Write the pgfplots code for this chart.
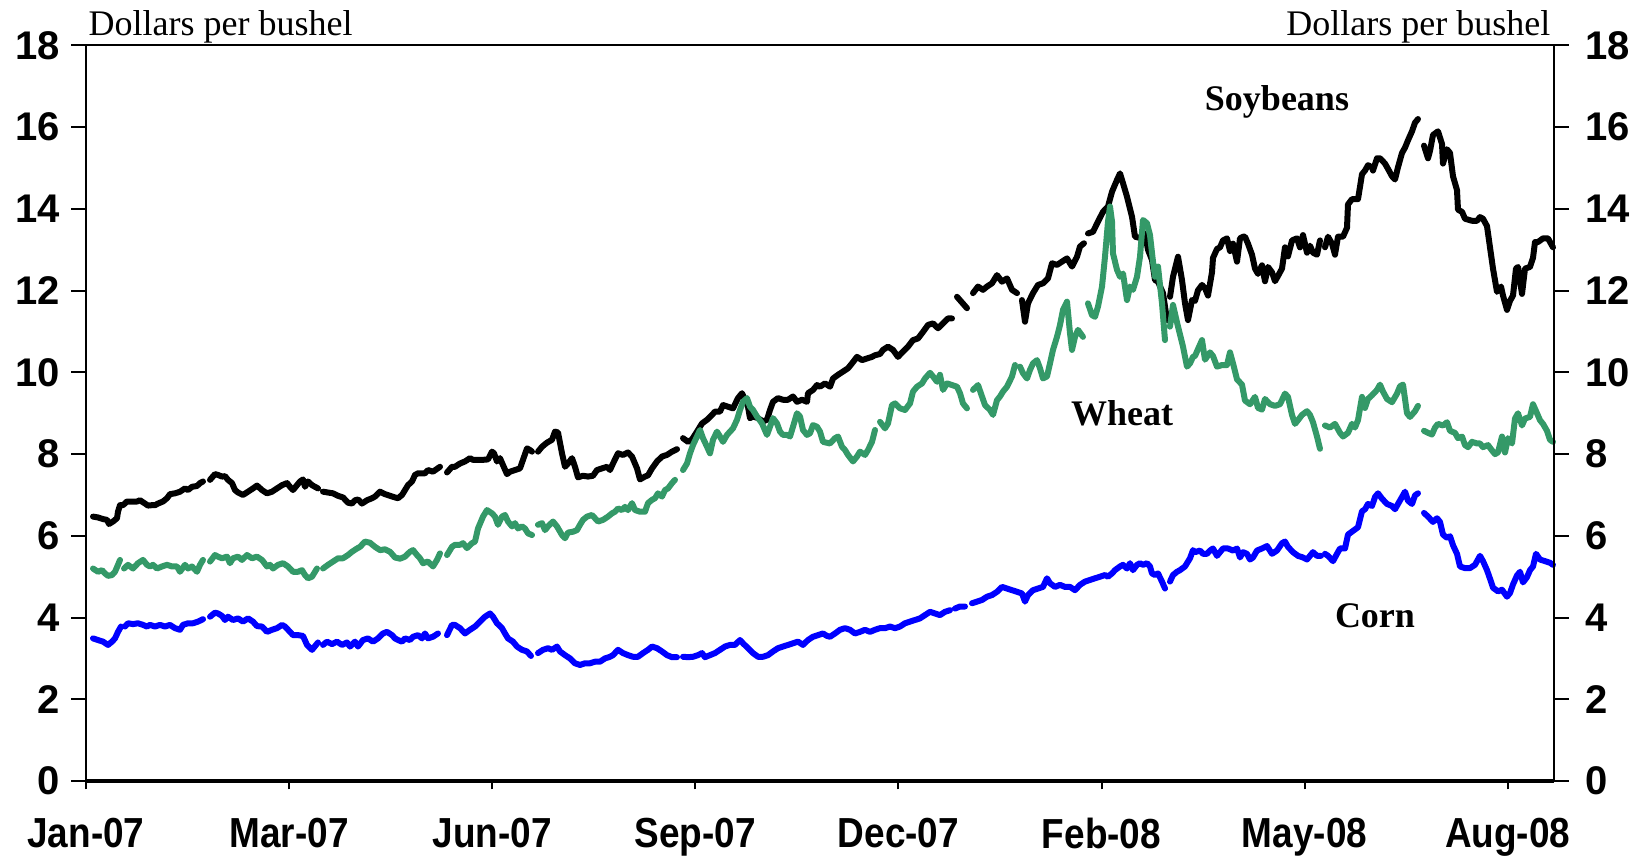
\documentclass[border=0pt]{standalone}
\usepackage{fontspec}
\setmainfont{Liberation Serif}
\newfontfamily\tickfont{Liberation Sans}
\usepackage{graphicx}
\usepackage{pgfplots}
\pgfplotsset{compat=1.18}

\definecolor{wheatgreen}{RGB}{52,153,104}
\definecolor{cornblue}{RGB}{0,0,255}

% x labels look a bit narrower than the y labels
\newcommand{\xl}[1]{\scalebox{0.88}[1]{#1}}

\begin{document}
\begin{tikzpicture}
\pgfplotsset{
  base/.style={
    scale only axis, width=440.4pt, height=220.65pt,
    xmin=0, xmax=1468, ymin=0, ymax=18,
    at={(0,0)}, anchor=south west,
    axis line style={line width=0.6pt},
    tick style={line width=0.6pt, black},
    tick align=outside,
  },
  series/.style={line width=1.8pt, line cap=round, line join=round},
}

% ---- data axis: frame, x ticks, three series ----
\begin{axis}[
    base,
    clip=false,
    unbounded coords=jump,
    major tick length=2.5pt,
    xtick={0,203.1,406.2,609.3,812.4,1015.5,1218.6,1421.7},
    xticklabels={\xl{Jan-07},\xl{Mar-07},\xl{Jun-07},\xl{Sep-07},\xl{Dec-07},\xl{Feb-08},\xl{May-08},\xl{Aug-08}},
    xtick pos=left,
    x tick label style={font=\tickfont\bfseries\fontsize{12.6}{13}\selectfont, yshift=-5pt},
    ytick=\empty,
]

% Soybeans
\addplot[series, black] coordinates {
(7,6.47) (12,6.45) (17,6.41) (21,6.39) (23,6.29) (27,6.35) (31,6.43) (32,6.59) (34,6.75) (37,6.75)
(41,6.84) (46,6.84) (51,6.84) (54,6.87) (59,6.79) (62,6.74) (66,6.75) (69,6.75) (72,6.79) (77,6.84)
(81,6.92) (84,7.02) (89,7.04) (94,7.08) (99,7.16) (102,7.12) (106,7.20) (111,7.22) (114,7.29) (117,7.33)
(120,nan)
(124,7.37) (129,7.51) (132,7.49) (136,7.45) (139,7.46) (142,7.37) (146,7.29) (149,7.12) (152,7.06) (157,7.00)
(162,7.08) (167,7.16) (171,7.23) (176,7.12) (181,7.04) (186,7.08) (191,7.16) (196,7.24) (201,7.29) (204,7.20)
(207,7.12) (211,7.24) (214,7.33) (217,7.38) (219,7.20) (222,7.33) (226,7.24) (229,7.20) (232,7.16)
(234,nan)
(237,7.08) (242,7.06) (247,7.04) (252,6.98) (257,6.94) (262,6.81) (266,6.79) (269,6.87) (272,6.89) (276,6.79)
(281,6.87) (286,6.92) (289,6.96) (294,7.08) (299,7.02) (304,6.98) (309,6.94) (312,6.92) (316,7.00) (319,7.12)
(322,7.24) (326,7.33) (329,7.49) (332,7.53) (339,7.53) (342,7.61) (347,7.57) (354,7.69)
(357,nan)
(361,7.55) (366,7.69) (369,7.69) (374,7.77) (379,7.82) (384,7.90) (387,7.86) (392,7.86) (397,7.86) (402,7.87)
(406,8.06) (408,8.02) (411,7.82) (414,7.90) (417,7.73) (421,7.51) (424,7.57) (429,7.61) (434,7.65) (437,7.86)
(441,8.14) (444,8.10) (446,8.06)
(449,nan)
(452,8.06) (456,8.18) (461,8.28) (466,8.35) (469,8.55) (472,8.53) (476,8.02) (479,7.69) (482,7.77) (486,7.90)
(489,7.69) (492,7.43) (497,7.47) (502,7.45) (507,7.47) (511,7.61) (516,7.65) (521,7.69) (524,7.61) (527,7.77)
(532,8.02) (537,7.98) (542,8.04) (546,7.94) (551,7.65) (554,7.38) (559,7.45) (562,7.48) (566,7.65) (571,7.82)
(576,7.94) (581,7.98) (586,8.06) (591,8.12)
(594,nan)
(597,8.39) (602,8.30) (606,8.36) (611,8.55) (616,8.75) (621,8.84) (626,8.96) (629,9.04) (634,9.04) (637,9.20)
(642,9.16) (647,9.12) (652,9.37) (656,9.49) (659,9.33) (662,9.16) (664,8.88) (667,8.92) (672,8.88) (677,8.80)
(681,8.84) (684,9.08) (687,9.28) (692,9.37) (697,9.33) (702,9.33) (707,9.41) (711,9.28) (716,9.33) (721,9.28)
(722,9.49) (727,9.57) (731,9.69) (734,9.65) (739,9.73) (744,9.65) (747,9.85) (752,9.94) (757,10.02) (762,10.10)
(766,10.22) (771,10.38) (776,10.30) (781,10.34) (786,10.38) (789,10.42) (794,10.45) (797,10.55) (802,10.63) (807,10.55)
(812,10.38) (817,10.51) (822,10.63) (827,10.79) (832,10.83) (837,10.99) (842,11.16) (847,11.20) (852,11.08) (857,11.20)
(862,11.32) (866,11.32)
(868,nan)
(871,11.85) (881,11.57)
(884,nan)
(887,11.94) (892,12.10) (897,12.02) (901,12.10) (906,12.18) (911,12.38) (916,12.22) (921,12.30) (926,12.02) (931,11.94)
(933,nan)
(936,11.77) (939,11.24) (942,11.69) (947,11.94) (952,12.14) (957,12.18) (962,12.30) (966,12.67) (971,12.63) (976,12.71)
(981,12.79) (986,12.59) (991,12.83) (994,13.08) (998,13.16)
(1000,nan)
(1002,13.40) (1007,13.44) (1012,13.69) (1017,13.93) (1022,14.06) (1026,14.42) (1031,14.71) (1034,14.87) (1037,14.63) (1041,14.30)
(1046,13.81) (1049,13.32) (1056,13.28) (1059,13.40) (1062,13.00) (1066,12.75) (1069,12.26) (1072,12.22) (1077,11.94) (1081,11.28)
(1082,nan)
(1084,11.85) (1087,12.34) (1092,12.83) (1096,12.26) (1099,11.69) (1102,11.28) (1106,11.77) (1109,11.75) (1112,12.01) (1116,12.14)
(1119,12.06) (1122,11.88) (1126,12.45) (1127,12.80) (1131,13.02) (1134,13.06) (1137,13.23) (1141,13.28) (1144,12.97) (1147,13.15)
(1151,12.71) (1154,13.28) (1157,13.32) (1159,13.32) (1162,13.15) (1166,12.88) (1169,12.54) (1172,12.41) (1176,12.62) (1179,12.23)
(1182,12.58) (1186,12.45) (1189,12.23) (1192,12.36) (1196,12.54) (1199,13.06) (1202,12.84) (1206,13.23) (1211,13.28) (1214,13.06)
(1217,13.36) (1221,12.93) (1224,13.10) (1227,12.93) (1231,12.88) (1234,13.23)
(1236,nan)
(1239,13.06) (1242,13.32) (1246,13.15) (1249,12.88) (1252,13.32) (1257,13.32) (1261,13.54) (1262,14.11) (1266,14.24) (1272,14.24)
(1274,14.54) (1276,14.85) (1279,14.94) (1282,15.07) (1286,15.02) (1287,14.94) (1291,15.24) (1294,15.24) (1299,15.11) (1302,14.98)
(1306,14.80) (1309,14.72) (1312,15.02) (1316,15.37) (1319,15.50) (1322,15.68) (1326,15.90) (1329,16.11) (1332,16.20)
(1335,nan)
(1338,15.55) (1342,15.24) (1344,15.42) (1347,15.81) (1352,15.90) (1356,15.59) (1357,15.11) (1361,15.46) (1364,15.37) (1367,14.80)
(1371,14.46) (1372,13.98) (1376,13.93) (1379,13.76) (1386,13.71) (1391,13.71) (1394,13.80) (1397,13.76) (1401,13.58) (1404,13.06)
(1407,12.54) (1411,11.97) (1415,12.10) (1417,11.88) (1421,11.53) (1424,11.75) (1427,11.88) (1430,12.54) (1432,12.58) (1436,11.92)
(1439,12.54) (1444,12.58) (1447,12.80) (1449,13.19) (1452,13.19) (1457,13.28) (1462,13.28) (1467,13.06)
};

% Wheat
\addplot[series, wheatgreen] coordinates {
(7,5.20) (12,5.12) (16,5.16) (19,5.08) (22,5.02) (26,5.04) (29,5.12) (32,5.29) (34,5.41)
(36,nan)
(38,5.20) (42,5.29) (47,5.20) (52,5.33) (57,5.41) (61,5.29) (64,5.25) (67,5.29) (71,5.20) (76,5.25)
(81,5.29) (86,5.25) (91,5.25) (94,5.12) (99,5.29) (102,5.20) (106,5.25) (111,5.12) (114,5.29) (117,5.41)
(120,nan)
(124,5.37) (129,5.53) (132,5.49) (136,5.45) (141,5.49) (144,5.33) (147,5.45) (152,5.49) (156,5.41) (161,5.53)
(166,5.45) (171,5.49) (176,5.41) (181,5.25) (184,5.29) (187,5.20) (192,5.29) (197,5.33) (202,5.25) (207,5.12)
(212,5.12) (216,5.16) (219,5.04) (222,4.96) (226,5.00) (229,5.12) (231,5.20)
(234,nan)
(237,5.20) (242,5.29) (247,5.37) (252,5.45) (257,5.45) (262,5.53) (266,5.61) (271,5.69) (274,5.73) (279,5.86)
(284,5.83) (289,5.73) (294,5.65) (299,5.67) (304,5.61) (309,5.47) (314,5.44) (319,5.49) (324,5.61) (327,5.65)
(331,5.53) (334,5.45) (337,5.33) (342,5.37) (347,5.25) (351,5.41) (354,5.57)
(357,nan)
(361,5.53) (366,5.73) (369,5.78) (374,5.78) (377,5.82) (381,5.70) (386,5.82) (389,5.86) (392,6.18) (397,6.47)
(401,6.63) (406,6.55) (409,6.47) (412,6.27) (416,6.47) (419,6.51) (422,6.35) (426,6.23) (429,6.31) (432,6.18)
(436,6.23) (439,6.18) (442,6.06) (446,6.02)
(449,nan)
(452,6.27) (456,6.31) (459,6.14) (462,6.23) (467,6.35) (471,6.23) (476,6.02) (479,5.94) (482,6.08) (487,6.10)
(491,6.14) (494,6.27) (497,6.39) (501,6.47) (506,6.51) (509,6.43) (512,6.35) (517,6.39) (522,6.47) (526,6.55)
(529,6.59) (532,6.67) (536,6.63) (539,6.71) (542,6.63) (546,6.80) (549,6.63) (554,6.59) (559,6.59) (562,6.80)
(566,6.88) (569,6.92) (572,7.04) (576,6.96) (579,7.12) (582,7.16) (586,7.29) (589,7.37)
(593,nan)
(597,7.61) (601,7.77) (604,8.02) (607,8.22) (611,8.43) (614,8.59) (617,8.39) (621,8.18) (624,8.02) (627,8.35)
(631,8.55) (634,8.43) (637,8.30) (641,8.47) (644,8.55) (647,8.63) (651,8.84) (654,9.08) (657,9.28) (661,9.37)
(664,9.16) (667,9.08) (671,8.92) (676,8.75) (681,8.47) (684,8.67) (687,8.88) (691,8.75) (694,8.55) (697,8.47)
(701,8.47) (704,8.43) (707,8.67) (711,9.00) (714,8.92) (717,8.59) (721,8.47) (724,8.51) (727,8.71) (731,8.67)
(734,8.55) (737,8.30) (744,8.26) (749,8.39) (752,8.43) (756,8.18) (759,8.10) (762,7.98) (767,7.82) (771,7.94)
(774,8.06) (779,7.98) (782,8.10) (786,8.30) (789,8.59)
(791,nan)
(794,8.79) (799,8.63) (802,8.75) (806,9.20) (809,9.24) (814,9.12) (819,9.08) (824,9.24) (827,9.53) (831,9.65)
(836,9.73) (839,9.85) (844,9.99) (847,9.90) (851,9.77) (854,9.94) (857,9.57) (861,9.73) (866,9.69) (871,9.65)
(874,9.49) (877,9.24) (881,9.12)
(884,nan)
(887,9.57) (892,9.69) (896,9.41) (899,9.20) (904,9.08) (907,8.96) (911,9.32) (914,9.41) (917,9.53) (921,9.65)
(926,9.90) (929,10.18)
(931,nan)
(934,10.14) (937,9.98) (941,9.85) (944,10.06) (947,10.22) (951,10.30) (954,10.10) (957,9.85) (961,9.90) (964,10.22)
(967,10.55) (971,10.87) (974,11.16) (977,11.53) (981,11.73) (984,10.96) (986,10.55) (989,10.87) (992,11.04) (997,10.87)
(1000,nan)
(1002,11.69) (1006,11.40) (1009,11.36) (1012,11.61) (1016,12.10) (1019,12.83) (1022,13.69) (1024,14.06) (1026,13.69) (1027,12.91)
(1031,12.51) (1034,12.34) (1037,12.42) (1041,11.77) (1044,12.10) (1047,12.02) (1051,12.34) (1054,12.83) (1057,13.73) (1061,13.65)
(1064,13.36) (1067,12.71) (1069,12.34) (1072,12.59) (1076,11.69) (1079,10.79)
(1082,nan)
(1084,11.12) (1087,11.65) (1092,11.12) (1097,10.63) (1101,10.14) (1104,10.22) (1107,10.38) (1109,10.40) (1112,10.57) (1116,10.79)
(1119,10.31) (1124,10.49) (1127,10.40) (1131,10.14) (1136,10.18) (1141,10.18) (1144,10.49) (1147,10.22) (1151,9.83) (1156,9.70)
(1159,9.31) (1164,9.22) (1169,9.40) (1172,9.13) (1176,9.09) (1179,9.35) (1184,9.22) (1189,9.18) (1194,9.22) (1199,9.48)
(1202,9.40) (1206,8.96) (1209,8.74) (1212,8.83) (1216,8.96) (1221,9.05) (1224,8.96) (1227,8.78) (1231,8.43) (1234,8.13)
(1236,nan)
(1239,8.70) (1244,8.65) (1249,8.74) (1254,8.52) (1257,8.43) (1262,8.52) (1266,8.74) (1269,8.65) (1272,8.83) (1276,9.40)
(1279,9.13) (1282,9.35) (1286,9.44) (1291,9.57) (1294,9.70) (1297,9.53) (1301,9.35) (1306,9.27) (1311,9.48) (1314,9.66)
(1317,9.70) (1321,9.00) (1324,8.91) (1329,9.05) (1332,9.18)
(1335,nan)
(1338,8.57) (1342,8.52) (1346,8.48) (1349,8.65) (1352,8.74) (1357,8.70) (1361,8.78) (1364,8.57) (1369,8.52) (1372,8.39)
(1376,8.43) (1379,8.22) (1382,8.17) (1386,8.30) (1391,8.26) (1394,8.26) (1397,8.17) (1402,8.22) (1406,8.09) (1409,8.00)
(1412,8.04) (1416,8.43) (1419,8.04) (1422,8.39) (1426,8.26) (1429,8.87) (1432,9.00) (1436,8.70) (1439,8.87) (1444,8.91)
(1447,9.22) (1451,9.00) (1454,8.83) (1457,8.74) (1461,8.57) (1464,8.35) (1467,8.30)
};

% Corn
\addplot[series, cornblue] coordinates {
(7,3.49) (12,3.45) (17,3.41) (22,3.33) (26,3.41) (29,3.49) (32,3.65) (35,3.78)
(37,nan)
(39,3.78) (42,3.86) (47,3.84) (52,3.86) (57,3.82) (61,3.78) (64,3.82) (69,3.78) (74,3.82) (79,3.78)
(84,3.82) (89,3.74) (94,3.70) (97,3.82) (102,3.86) (107,3.86) (112,3.90) (117,3.96)
(120,nan)
(124,4.02) (129,4.12) (132,4.10) (136,4.04) (139,3.94) (142,4.02) (147,3.94) (152,3.98) (157,3.90) (162,3.98)
(167,3.90) (171,3.79) (176,3.78) (181,3.65) (186,3.70) (191,3.74) (196,3.82) (199,3.78) (204,3.65) (207,3.57)
(212,3.57) (217,3.55) (221,3.33) (226,3.21) (229,3.30) (232,3.39)
(234,nan)
(237,3.33) (241,3.41) (246,3.35) (251,3.41) (256,3.33) (261,3.39) (264,3.29) (269,3.41) (272,3.29) (277,3.45)
(282,3.49) (287,3.41) (292,3.49) (297,3.61) (301,3.65) (306,3.57) (309,3.49) (312,3.45) (316,3.41) (319,3.49)
(324,3.45) (327,3.53) (332,3.57) (336,3.49) (339,3.61) (342,3.49) (347,3.53) (352,3.61)
(356,nan)
(361,3.57) (366,3.82) (369,3.82) (374,3.74) (379,3.61) (384,3.70) (389,3.78) (394,3.90) (399,4.02) (404,4.10)
(407,4.02) (411,3.86) (416,3.74) (419,3.61) (422,3.49) (427,3.41) (431,3.29) (436,3.21) (441,3.17) (445,3.06)
(448,nan)
(452,3.13) (457,3.21) (462,3.25) (466,3.21) (471,3.29) (474,3.17) (479,3.08) (484,3.00) (489,2.88) (494,2.84)
(499,2.88) (504,2.88) (509,2.92) (514,2.92) (519,3.00) (524,3.04) (527,3.08) (532,3.21) (537,3.13) (542,3.08)
(547,3.04) (552,3.04) (557,3.13) (562,3.21) (566,3.29) (571,3.25) (576,3.17) (581,3.08) (586,3.03) (591,3.03)
(594,nan)
(597,3.04) (602,3.03) (607,3.04) (612,3.08) (616,3.13) (619,3.03) (624,3.08) (629,3.13) (634,3.21) (639,3.29)
(644,3.33) (649,3.33) (654,3.45) (657,3.37) (662,3.25) (667,3.13) (672,3.04) (677,3.04) (682,3.08) (687,3.17)
(692,3.25) (697,3.29) (702,3.33) (707,3.37) (712,3.41) (717,3.33) (722,3.45) (727,3.53) (732,3.57) (737,3.61)
(741,3.55) (744,3.53) (749,3.61) (754,3.70) (759,3.74) (764,3.70) (769,3.61) (774,3.65) (779,3.70) (784,3.65)
(789,3.70) (794,3.74) (799,3.74) (804,3.78) (809,3.74) (814,3.78) (819,3.86) (824,3.90) (829,3.94) (834,3.98)
(839,4.06) (844,4.14) (849,4.10) (854,4.06) (859,4.14) (864,4.18)
(866,nan)
(869,4.22) (874,4.27) (879,4.27)
(882,nan)
(886,4.35) (891,4.39) (896,4.43) (901,4.51) (906,4.55) (911,4.63) (916,4.75) (921,4.71) (926,4.67) (931,4.63)
(936,4.59) (939,4.39) (942,4.55) (947,4.67) (952,4.71) (957,4.75) (961,4.96) (964,4.84) (969,4.75) (974,4.80)
(979,4.75) (984,4.75) (989,4.67) (994,4.80) (999,4.88) (1004,4.92) (1009,4.96) (1014,5.00) (1019,5.04) (1022,5.00)
(1026,5.08) (1029,5.16) (1034,5.25) (1037,5.29) (1041,5.20) (1044,5.33) (1047,5.16) (1051,5.29) (1054,5.33) (1057,5.29)
(1061,5.33) (1064,5.25) (1066,5.08) (1069,5.04) (1072,5.08) (1076,4.88) (1079,4.71)
(1082,nan)
(1084,4.88) (1087,5.04) (1091,5.12) (1094,5.16) (1099,5.25) (1104,5.45) (1107,5.65) (1109,5.60) (1114,5.64) (1117,5.56)
(1121,5.56) (1124,5.64) (1127,5.69) (1131,5.51) (1134,5.60) (1137,5.69) (1142,5.69) (1147,5.64) (1151,5.69) (1154,5.47)
(1157,5.60) (1161,5.56) (1164,5.42) (1167,5.47) (1171,5.64) (1176,5.69) (1181,5.75) (1186,5.56) (1191,5.64) (1196,5.82)
(1199,5.86) (1202,5.73) (1207,5.60) (1212,5.51) (1217,5.47) (1221,5.42) (1224,5.51) (1227,5.60) (1231,5.51) (1235,5.51)
(1237,nan)
(1239,5.56) (1242,5.51) (1247,5.38) (1251,5.56) (1254,5.69) (1259,5.69) (1262,6.03) (1267,6.12) (1272,6.21) (1276,6.60)
(1279,6.65) (1282,6.78) (1286,6.73) (1289,6.95) (1292,7.04) (1296,6.91) (1301,6.78) (1306,6.73) (1309,6.65) (1312,6.78)
(1316,6.95) (1319,7.08) (1322,6.86) (1326,6.78) (1329,6.99) (1332,7.04)
(1335,nan)
(1338,6.56) (1342,6.47) (1347,6.34) (1351,6.43) (1354,6.34) (1357,6.03) (1361,5.95) (1364,5.99) (1367,5.77) (1371,5.56)
(1374,5.25) (1379,5.21) (1384,5.21) (1389,5.29) (1394,5.51) (1397,5.38) (1401,5.16) (1404,4.95) (1407,4.73) (1412,4.64)
(1416,4.68) (1421,4.51) (1424,4.60) (1427,4.81) (1431,5.03) (1434,5.12) (1437,4.86) (1441,4.99) (1444,5.16) (1447,5.25)
(1450,5.56) (1454,5.42) (1459,5.38) (1464,5.34) (1467,5.29)
};

% heavier bottom axis line
\draw[line width=1.2pt] (rel axis cs:0,0) -- (rel axis cs:1,0);

\node[font=\fontsize{10.8}{12}\selectfont, anchor=base west, inner sep=0pt, xshift=0.6pt, yshift=2.9pt]
  at (rel axis cs:0,1) {Dollars per bushel};
\node[font=\fontsize{10.8}{12}\selectfont, anchor=base east, inner sep=0pt, xshift=-0.9pt, yshift=2.9pt]
  at (rel axis cs:1,1) {Dollars per bushel};

\node[font=\fontsize{10.8}{12}\selectfont\bfseries] at (axis cs:1191,16.62) {Soybeans};
\node[font=\fontsize{10.8}{12}\selectfont\bfseries] at (axis cs:1036,9.01) {Wheat};
\node[font=\fontsize{10.8}{12}\selectfont\bfseries] at (axis cs:1289,4.04) {Corn};
\end{axis}

% ---- left y axis ----
\begin{axis}[
    base,
    hide x axis,
    axis y line*=left,
    major tick length=4.4pt,
    ytick={0,2,...,18},
    /pgf/number format/assume math mode=true,
    y tick label style={font=\tickfont\bfseries\fontsize{12}{13}\selectfont},
]
\end{axis}

% ---- right y axis ----
\begin{axis}[
    base,
    hide x axis,
    axis y line*=right,
    major tick length=4.4pt,
    ytick={0,2,...,18},
    /pgf/number format/assume math mode=true,
    y tick label style={font=\tickfont\bfseries\fontsize{12}{13}\selectfont, xshift=1.5pt},
]
\end{axis}

\pgfresetboundingbox
\path[use as bounding box] (-25.8pt,-22.5pt) rectangle (465.3pt,234.3pt);
\end{tikzpicture}
\end{document}
